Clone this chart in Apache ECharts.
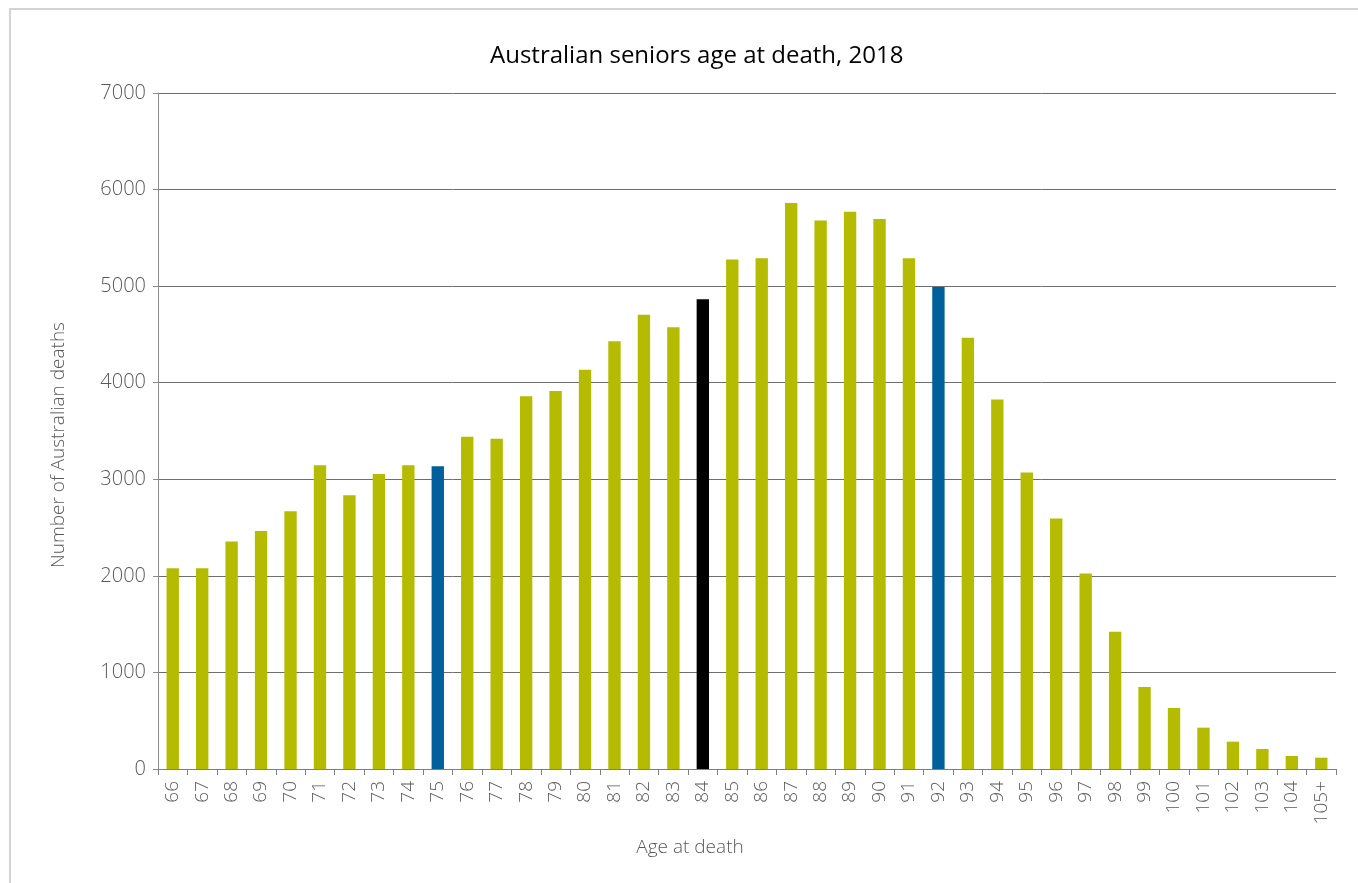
<!DOCTYPE html>
<html>
<head>
<meta charset="utf-8">
<title>Australian seniors age at death, 2018</title>
<script src="https://cdn.jsdelivr.net/npm/echarts@6/dist/echarts.min.js"></script>
<style>
  html, body { margin: 0; padding: 0; background: #ffffff; }
  #chart { width: 1358px; height: 883px; }
</style>
</head>
<body>
<div id="chart"></div>
<script>
// Age at death categories
const ages = ['66', '67', '68', '69', '70', '71', '72', '73', '74', '75',
  '76', '77', '78', '79', '80', '81', '82', '83', '84', '85',
  '86', '87', '88', '89', '90', '91', '92', '93', '94', '95',
  '96', '97', '98', '99', '100', '101', '102', '103', '104', '105+'];

// Number of deaths at each age
const deaths = [2080, 2080, 2355, 2465, 2670, 3145, 2835, 3055, 3145, 3135,
  3440, 3420, 3860, 3915, 4135, 4430, 4705, 4575, 4865, 5275,
  5290, 5860, 5680, 5770, 5695, 5290, 4990, 4465, 3825, 3070,
  2595, 2025, 1420, 850, 632, 428, 283, 207, 135, 117];

// Highlighted ages
const blueAges = ['75', '92'];
const blackAges = ['84'];

const yTicks = [0, 1000, 2000, 3000, 4000, 5000, 6000, 7000];

const OLIVE = '#b5bc00';
const BLUE = '#00609c';
const BLACK = '#000000';
const TEXT = '#595959';
const FONT = '"Open Sans", "Noto Sans", sans-serif';

const barData = deaths.map((v, i) => {
  const age = ages[i];
  let color = OLIVE;
  if (blueAges.includes(age)) color = BLUE;
  if (blackAges.includes(age)) color = BLACK;
  return { value: v, itemStyle: { color: color } };
});

const chart = echarts.init(document.getElementById('chart'), null, { renderer: 'canvas' });

chart.setOption({
  animation: false,
  backgroundColor: '#ffffff',
  textStyle: { fontFamily: FONT },
  title: {
    text: 'Australian seniors age at death, 2018',
    left: 485,
    top: 39,
    textStyle: { fontFamily: FONT, fontSize: 24, fontWeight: 'normal', color: '#000000' }
  },
  grid: { left: 158, right: 22, top: 93, bottom: 114, containLabel: false },
  xAxis: {
    type: 'category',
    data: ages,
    axisLine: { show: true, lineStyle: { color: '#7f7f7f', width: 1 } },
    axisTick: { show: true, interval: 0, length: 6, lineStyle: { color: '#7f7f7f' } },
    axisLabel: {
      interval: 0, rotate: 90, margin: 12,
      fontFamily: FONT, fontSize: 19, fontWeight: 300, color: TEXT
    },
    splitLine: { show: false }
  },
  yAxis: {
    type: 'value',
    min: yTicks[0],
    max: yTicks[yTicks.length - 1],
    interval: 1000,
    name: 'Number of Australian deaths',
    nameLocation: 'middle',
    nameGap: 90,
    nameTextStyle: {
      fontFamily: FONT, fontSize: 19, fontWeight: 300, color: TEXT,
      padding: [0, 28, 0, 0]
    },
    axisLine: { show: true, lineStyle: { color: '#8c8c8c', width: 1 } },
    axisTick: { show: true, length: 5, lineStyle: { color: '#8c8c8c' } },
    axisLabel: {
      margin: 12, fontFamily: FONT, fontSize: 20, fontWeight: 300, color: TEXT,
      formatter: (v) => String(v)
    },
    splitLine: { show: true, lineStyle: { color: '#6e6e6e', width: 1 } }
  },
  series: [{
    type: 'bar',
    data: barData,
    barWidth: '42%'
  }],
  graphic: [
    {
      type: 'polyline',
      silent: true,
      shape: { points: [[10, 883], [10, 9], [1358, 9]] },
      style: { stroke: '#d3d3d3', lineWidth: 2, fill: null }
    },
    {
      type: 'text',
      silent: true,
      x: 690,
      y: 848,
      style: {
        text: 'Age at death',
        fontFamily: FONT, fontSize: 19, fontWeight: 300, fill: TEXT,
        align: 'center', verticalAlign: 'middle'
      }
    }
  ]
});
</script>
</body>
</html>
